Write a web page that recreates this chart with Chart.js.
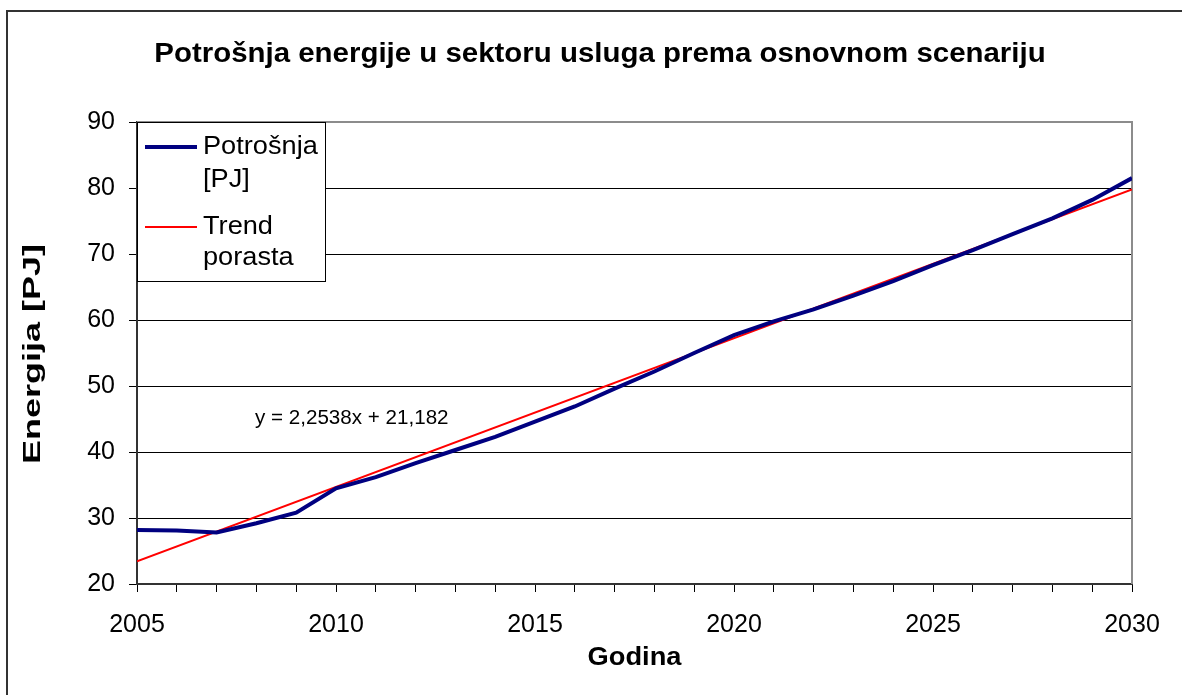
<!DOCTYPE html>
<html>
<head>
<meta charset="utf-8">
<script src="https://cdn.jsdelivr.net/npm/chart.js@4.4.1/dist/chart.umd.min.js"></script>
<style>
html,body{margin:0;padding:0;background:#fff;}
#wrap{position:relative;width:1182px;height:695px;}
</style>
</head>
<body>
<div id="wrap"><canvas id="c" width="1182" height="695"></canvas></div>
<script>
const years = [2005,2006,2007,2008,2009,2010,2011,2012,2013,2014,2015,2016,2017,2018,2019,2020,2021,2022,2023,2024,2025,2026,2027,2028,2029,2030];
const consumption = [28.2,28.1,27.8,29.2,30.8,34.5,36.2,38.3,40.3,42.3,44.6,46.9,49.6,52.2,55.0,57.7,59.8,61.6,63.7,65.9,68.3,70.6,73.0,75.4,78.2,81.5];
const trendYears = [2005,2030];
const trendValues = [23.44,79.78];
const yTicks = [20,30,40,50,60,70,80,90];
const xLabelYears = [2005,2010,2015,2020,2025,2030];

const titleText = 'Potrošnja energije u sektoru usluga prema osnovnom scenariju';
const xTitle = 'Godina';
const yTitle = 'Energija [PJ]';
const equationText = 'y = 2,2538x + 21,182';
const legendItems = [
  {lines:['Potrošnja','[PJ]'], color:'#000080', width:4},
  {lines:['Trend','porasta'], color:'#FF0000', width:2}
];

const FONT = '"Liberation Sans", Arial, sans-serif';

function stretchedText(ctx, text, x, y, sx){
  ctx.save();
  ctx.translate(x, y);
  ctx.scale(sx, 1);
  ctx.fillText(text, 0, 0);
  ctx.restore();
}

const decor = {
  id:'decor',
  beforeDatasetsDraw(chart){
    const ctx = chart.ctx, a = chart.chartArea;
    ctx.save();
    ctx.strokeStyle = '#8c8c8c';
    ctx.lineWidth = 2;
    ctx.beginPath();
    ctx.moveTo(a.left, a.top);
    ctx.lineTo(a.right, a.top);
    ctx.lineTo(a.right, a.bottom);
    ctx.stroke();
    ctx.restore();
  },
  afterDraw(chart){
    const ctx = chart.ctx, a = chart.chartArea;
    ctx.save();
    // outer frame
    ctx.strokeStyle = '#333';
    ctx.lineWidth = 2;
    ctx.beginPath();
    ctx.moveTo(7, 700);
    ctx.lineTo(7, 11);
    ctx.lineTo(1190, 11);
    ctx.stroke();
    // title
    ctx.fillStyle = '#000';
    ctx.textAlign = 'center';
    ctx.textBaseline = 'middle';
    ctx.font = 'bold 27px ' + FONT;
    stretchedText(ctx, titleText, 600, 55, 1.09);
    // x title
    ctx.font = 'bold 25px ' + FONT;
    stretchedText(ctx, xTitle, (a.left + a.right)/2, 658, 1.09);
    // y title
    ctx.save();
    ctx.translate(33, 354);
    ctx.rotate(-Math.PI/2);
    ctx.font = 'bold 24px ' + FONT;
    stretchedText(ctx, yTitle, 0, 0, 1.5);
    ctx.restore();
    // equation
    ctx.font = '20px ' + FONT;
    ctx.textAlign = 'left';
    stretchedText(ctx, equationText, 255, 418, 1.03);
    // legend
    const lx = a.left, ly = a.top, lw = 188, lh = 159;
    ctx.fillStyle = '#fff';
    ctx.fillRect(lx, ly, lw, lh);
    ctx.strokeStyle = '#000';
    ctx.lineWidth = 1;
    ctx.strokeRect(lx + 0.5, ly + 0.5, lw, lh);
    ctx.font = '26px ' + FONT;
    ctx.fillStyle = '#000';
    const rows = [[147,180],[227,258]];
    legendItems.forEach((it, i) => {
      const y0 = rows[i][0];
      ctx.strokeStyle = it.color;
      ctx.lineWidth = it.width;
      ctx.beginPath();
      ctx.moveTo(lx + 8, y0);
      ctx.lineTo(lx + 60, y0);
      ctx.stroke();
      it.lines.forEach((t, j) => stretchedText(ctx, t, lx + 66, rows[i][j], 1.045));
    });
    ctx.restore();
  }
};

new Chart(document.getElementById('c'), {
  type:'line',
  data:{
    datasets:[
      {label:'Potrošnja [PJ]', data: years.map((x,i)=>({x, y:consumption[i]})), borderColor:'#000080', borderWidth:4, pointRadius:0, tension:0, fill:false},
      {label:'Trend porasta', data: trendYears.map((x,i)=>({x, y:trendValues[i]})), borderColor:'#FF0000', borderWidth:2, pointRadius:0, tension:0, fill:false}
    ]
  },
  options:{
    responsive:false,
    animation:false,
    devicePixelRatio:1,
    layout:{padding:{top:122, right:50, left:0, bottom:0}},
    plugins:{legend:{display:false}, title:{display:false}, tooltip:{enabled:false}},
    scales:{
      x:{
        type:'linear', min:2005, max:2030,
        afterFit(s){ s.height = 111; },
        afterBuildTicks(s){ s.ticks = years.map(v=>({value:v})); },
        ticks:{autoSkip:false, maxRotation:0, color:'#000', font:{family:FONT, size:25}, padding:18,
          callback(v){ return xLabelYears.includes(v) ? String(v) : ''; }},
        grid:{drawOnChartArea:false, drawTicks:true, tickLength:8, color:'#000'},
        border:{color:'#333', width:2}
      },
      y:{
        min:20, max:90,
        afterFit(s){ s.width = 137; },
        afterBuildTicks(s){ s.ticks = yTicks.map(v=>({value:v})); },
        ticks:{color:'#000', font:{family:FONT, size:25}, padding:14},
        grid:{color:'#000', lineWidth:1, tickLength:8, drawTicks:true},
        border:{color:'#333', width:2}
      }
    }
  },
  plugins:[decor]
});
</script>
</body>
</html>
